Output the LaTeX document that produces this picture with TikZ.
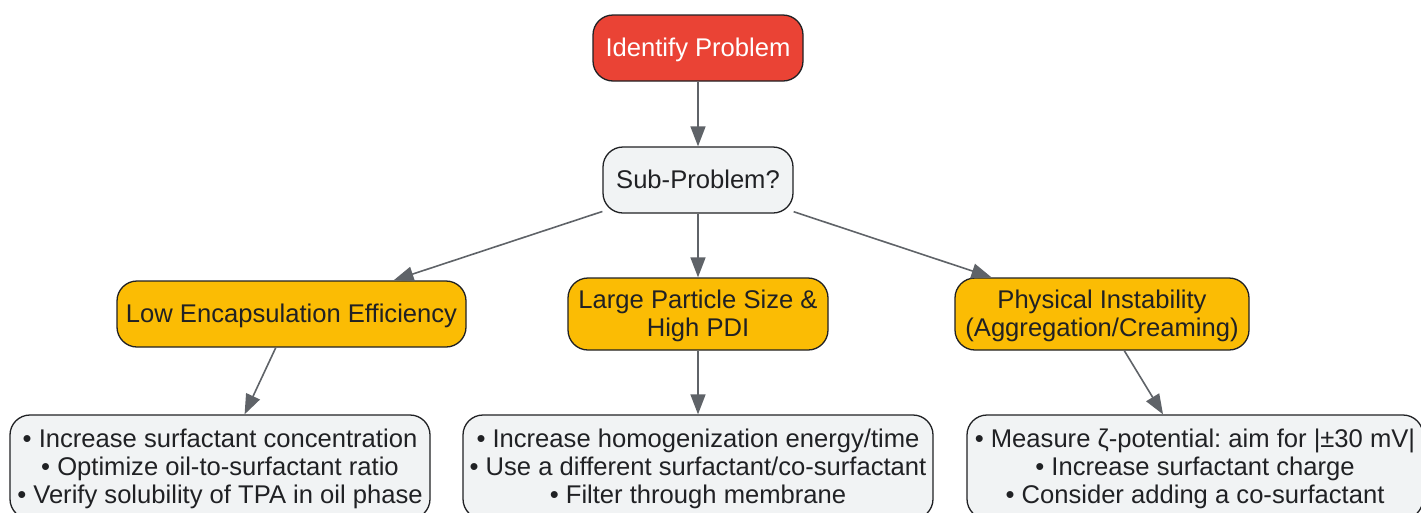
\documentclass[tikz,border=0pt]{standalone}
\usepackage{fontspec}
\setmainfont{Liberation Sans}
\usetikzlibrary{arrows.meta}
\frenchspacing

\definecolor{probred}{HTML}{EA4335}
\definecolor{askgrey}{HTML}{F1F3F4}
\definecolor{causeyellow}{HTML}{FBBC04}
\definecolor{linkgrey}{HTML}{5F6368}
\definecolor{inktext}{HTML}{202124}

% text a little lower in its box
\newcommand{\lowtext}[1]{\raisebox{-2.5pt}[\height][\depth]{\begin{tabular}{@{}c@{}}#1\end{tabular}}}

\tikzset{
  box/.style={draw=inktext, line width=1.3pt, rounded corners=20pt, align=center,
    text=inktext, inner sep=0pt, font=\fontsize{25.6}{28}\selectfont},
  topbox/.style={box, fill=probred, text=white},
  askbox/.style={box, fill=askgrey},
  causebox/.style={box, fill=causeyellow},
  fixbox/.style={box, fill=askgrey},
  link/.style={draw=linkgrey, line width=1.6pt, -{Triangle[length=20pt,width=15pt]}}
}

\begin{document}
\begin{tikzpicture}[x=1pt,y=-1pt]
                \useasboundingbox (0,0) rectangle (1421,512);

                % top of the tree
                \node[topbox, minimum width=210pt, minimum height=66pt] (ident) at (698,48) {\lowtext{Identify Problem}};
                \node[askbox, minimum width=190pt, minimum height=66pt] (sub) at (698,180) {\lowtext{Sub-Problem?}};

                % the three sub-problems
                \node[causebox, minimum width=349pt, minimum height=66pt] (lowee) at (291.5,314) {\lowtext{Low Encapsulation Efficiency}};
                \node[causebox, minimum width=260pt, minimum height=72pt] (large) at (698,314) {\lowtext{Large Particle Size \&\\High PDI}};
                \node[causebox, minimum width=294pt, minimum height=72pt] (instab) at (1102,314) {\lowtext{Physical Instability\\(Aggregation/Creaming)}};

                % what to do
                \node[fixbox, minimum width=420pt, minimum height=104pt] (fixee) at (220,467)
                  {\lowtext{• Increase surfactant concentration\\• Optimize oil-to-surfactant ratio\\• Verify solubility of TPA in oil phase}};
                \node[fixbox, minimum width=470pt, minimum height=104pt] (fixsize) at (698,467)
                  {\lowtext{• Increase homogenization energy/time\\• Use a different surfactant/co-surfactant\\• Filter through membrane}};
                \node[fixbox, minimum width=456pt, minimum height=104pt] (fixstab) at (1195,467)
                  {\lowtext{• Measure ζ-potential: aim for |±30 mV|\\• Increase surfactant charge\\• Consider adding a co-surfactant}};

                \draw[link] (ident) -- (sub);
                \draw[link] (sub) -- (lowee);
                \draw[link] (sub) -- (large);
                \draw[link] (sub) -- (instab);
                \draw[link] (lowee) -- (fixee);
                \draw[link] (large) -- (fixsize);
                \draw[link] (instab) -- (fixstab);

\end{tikzpicture}
\end{document}
